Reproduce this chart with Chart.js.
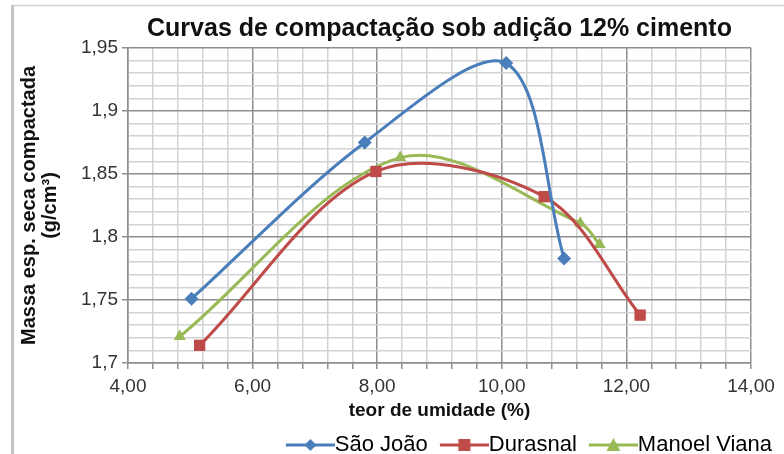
<!DOCTYPE html>
<html>
<head>
<meta charset="utf-8">
<script src="https://cdn.jsdelivr.net/npm/chart.js@4"></script>
<style>
  html, body { margin: 0; padding: 0; background: #fff; }
  #wrap { width: 784px; height: 454px; }
</style>
</head>
<body>
<div id="wrap"><canvas id="chart" width="784" height="454"></canvas></div>
<script>
// values
const saoJoaoX = [5.02, 7.80, 10.07, 11.00];
const saoJoaoY = [1.751, 1.875, 1.938, 1.783];
const durasnalX = [5.15, 7.98, 10.68, 12.22];
const durasnalY = [1.714, 1.852, 1.832, 1.738];
const manoelX = [4.83, 8.37, 11.26, 11.57];
const manoelY = [1.721, 1.863, 1.811, 1.794];

const seriesNames = ['São João', 'Durasnal', 'Manoel Viana'];
const seriesColors = ['#4a7ebb', '#be4b48', '#98b954'];
const seriesMarkers = ['rectRot', 'rect', 'triangle'];

const fontFam = '"Liberation Sans", Arial, sans-serif';
const legendSize = 22;

function toPoints(xs, ys) {
  let arr = [];
  for (let i = 0; i < xs.length; i++) {
    arr.push({x: xs[i], y: ys[i]});
  }
  return arr;
}

function isMajorX(v) { return Math.abs(v / 2 - Math.round(v / 2)) < 1e-6; }
function isMajorY(v) { return Math.round(v * 100) % 5 == 0; }

// legend sample: line with marker, widened so the line touches the text
function legendIcon(color, marker) {
  const c = document.createElement('canvas');
  const w = 50 + legendSize;
  c.width = w; c.height = 14;
  const g = c.getContext('2d');
  const x0 = legendSize / 2 + 12;
  const mid = (x0 + w) / 2;
  g.strokeStyle = color; g.fillStyle = color; g.lineWidth = 3;
  g.beginPath(); g.moveTo(x0, 7); g.lineTo(w, 7); g.stroke();
  g.beginPath();
  if (marker == 'rectRot') {
    g.moveTo(mid, 1); g.lineTo(mid + 6, 7); g.lineTo(mid, 13); g.lineTo(mid - 6, 7);
  } else if (marker == 'rect') {
    g.rect(mid - 6, 1, 12, 12);
  } else {
    g.moveTo(mid, 0); g.lineTo(mid + 7, 13); g.lineTo(mid - 7, 13);
  }
  g.closePath(); g.fill();
  return c;
}

const frame = {
  id: 'frame',
  beforeDraw(chart) {
    const ctx = chart.ctx;
    ctx.save();
    ctx.strokeStyle = '#d0d0d0';
    ctx.lineWidth = 1.5;
    ctx.beginPath(); ctx.moveTo(12, 5.5); ctx.lineTo(784, 5.5); ctx.stroke();
    ctx.strokeStyle = '#c4c4c4';
    ctx.lineWidth = 3;
    ctx.beginPath(); ctx.moveTo(12.5, 5); ctx.lineTo(12.5, 454); ctx.stroke();
    ctx.restore();
  }
};

const allX = [saoJoaoX, durasnalX, manoelX];
const allY = [saoJoaoY, durasnalY, manoelY];
const datasets = seriesNames.map((name, i) => ({
  label: name,
  data: toPoints(allX[i], allY[i]),
  showLine: true,
  borderColor: seriesColors[i],
  backgroundColor: seriesColors[i],
  borderWidth: 3,
  tension: 0.33,
  pointStyle: seriesMarkers[i],
  pointRadius: seriesMarkers[i] == 'rect' ? 8 : 7,
  pointBorderWidth: 0
}));

new Chart(document.getElementById('chart'), {
  type: 'scatter',
  data: { datasets: datasets },
  plugins: [frame],
  options: {
    responsive: false,
    animation: false,
    layout: { padding: { left: 14, right: 12, top: 0, bottom: -12 } },
    plugins: {
      title: {
        display: true,
        fullSize: false,
        text: 'Curvas de compactação sob adição 12% cimento',
        color: '#111',
        font: { family: fontFam, size: 25, weight: 'bold' },
        padding: { top: 14, bottom: 4 }
      },
      legend: {
        position: 'bottom',
        align: 'end',
        labels: {
          color: '#222',
          font: { family: fontFam, size: legendSize },
          usePointStyle: true,
          pointStyleWidth: 50,
          padding: 0,
          generateLabels: (chart) => seriesNames.map((n, i) => ({
            text: n,
            pointStyle: legendIcon(seriesColors[i], seriesMarkers[i]),
            fillStyle: seriesColors[i],
            strokeStyle: seriesColors[i],
            lineWidth: 0,
            datasetIndex: i
          }))
        }
      },
      tooltip: { enabled: false }
    },
    scales: {
      x: {
        type: 'linear',
        min: 4, max: 14,
        afterBuildTicks: (scale) => {
          let t = [];
          for (let k = 0; k <= 25; k++) t.push({value: 4 + k * 0.4});
          scale.ticks = t;
        },
        afterFit: (scale) => { scale.height = 71; },
        ticks: {
          color: '#333',
          font: { family: fontFam, size: 19 },
          maxRotation: 0,
          autoSkip: false,
          padding: 6,
          callback: (v) => isMajorX(v) ? v.toFixed(2).replace('.', ',') : ''
        },
        grid: {
          color: (c) => isMajorX(c.tick.value) ? '#8e8e8e' : '#d2d2d2',
          lineWidth: 1.5,
          tickLength: 6,
          tickColor: '#8e8e8e'
        },
        border: { color: '#8e8e8e', width: 1.5 },
        title: {
          display: true,
          text: 'teor de umidade (%)',
          color: '#111',
          font: { family: fontFam, size: 19, weight: 'bold' },
          padding: { top: 0, bottom: 12 }
        }
      },
      y: {
        type: 'linear',
        min: 1.7, max: 1.95,
        afterBuildTicks: (scale) => {
          let t = [];
          for (let k = 0; k <= 25; k++) t.push({value: Math.round((1.7 + k * 0.01) * 100) / 100});
          scale.ticks = t;
        },
        afterFit: (scale) => { scale.width = 114; },
        ticks: {
          color: '#333',
          font: { family: fontFam, size: 19 },
          autoSkip: false,
          padding: 4,
          callback: (v) => isMajorY(v) ? String(Math.round(v * 100) / 100).replace('.', ',') : ''
        },
        grid: {
          color: (c) => isMajorY(c.tick.value) ? '#8e8e8e' : '#d2d2d2',
          lineWidth: 1.5,
          tickLength: 6,
          tickColor: (c) => isMajorY(c.tick.value) ? '#8e8e8e' : 'rgba(0,0,0,0)'
        },
        border: { color: '#8e8e8e', width: 1.5 },
        title: {
          display: true,
          text: ['Massa esp. seca compactada', '(g/cm³)'],
          color: '#111',
          font: { family: fontFam, size: 20, weight: 'bold', lineHeight: 1.05 },
          padding: { top: 5, bottom: 2 }
        }
      },
      // empty axis on the right to reserve space while the legend reaches the edge
      y2: {
        type: 'linear',
        position: 'right',
        display: true,
        afterFit: (scale) => { scale.width = 21; },
        ticks: { display: false },
        grid: { display: false, drawTicks: false },
        border: { display: false }
      }
    }
  }
});
</script>
</body>
</html>
